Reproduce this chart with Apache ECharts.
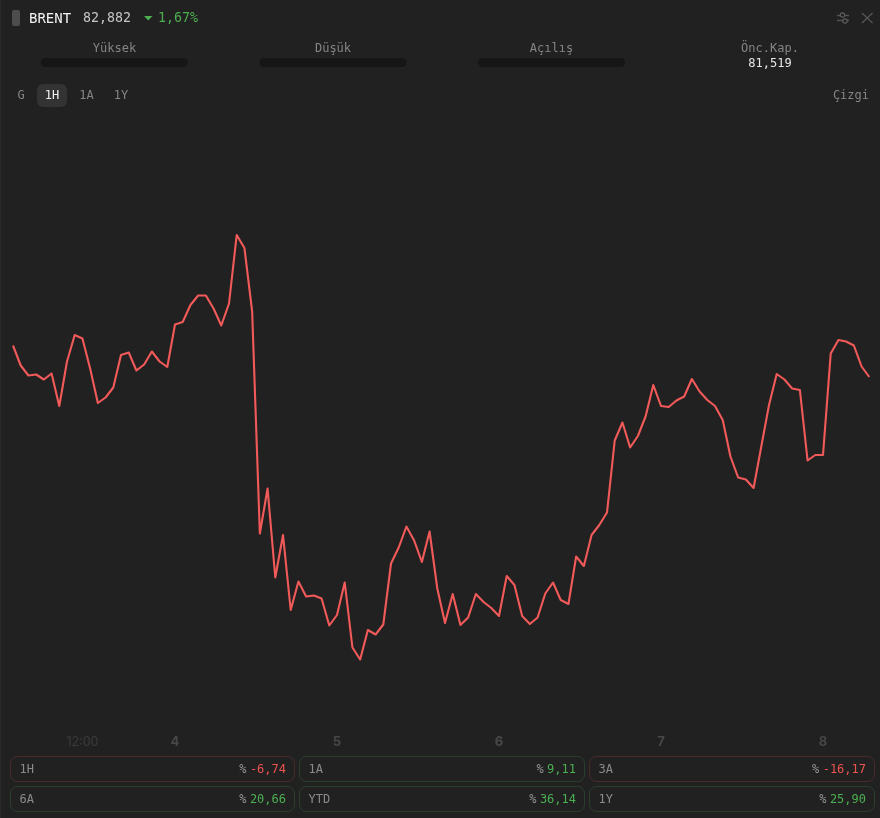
<!DOCTYPE html>
<html><head><meta charset="utf-8">
<style>html,body{margin:0;padding:0;background:#212121}#c{width:880px;height:818px}</style>
<script src="https://cdn.jsdelivr.net/npm/echarts@6/dist/echarts.min.js"></script>
</head><body><div id="c"></div>
<script>
const prices = [83.51,83.11,82.91,82.93,82.83,82.95,82.30,83.19,83.72,83.65,83.05,82.36,82.47,82.67,83.32,83.37,83.01,83.13,83.39,83.19,83.08,
83.93,83.98,84.32,84.51,84.51,84.25,83.91,84.35,85.72,85.46,84.19,79.75,80.65,78.87,79.72,78.22,78.79,78.49,78.51,78.45,77.91,
78.12,78.77,77.47,77.23,77.82,77.73,77.93,79.15,79.47,79.89,79.61,79.18,79.79,78.65,77.96,78.54,77.92,78.07,78.54,78.38,78.26,
78.10,78.90,78.72,78.10,77.94,78.07,78.55,78.77,78.42,78.34,79.29,79.10,79.72,79.92,80.17,81.61,81.97,81.47,81.70,82.09,82.72,
82.30,82.28,82.41,82.49,82.84,82.59,82.42,82.30,82.02,81.29,80.87,80.83,80.66,81.49,82.32,82.94,82.83,82.65,82.62,81.21,81.32,
81.32,83.35,83.62,83.59,83.51,83.09,82.88];
const tickIndex = [9,21,42,63,84,105];
const tickText = ['12:00','4','5','6','7','8'];
const categories = prices.map((_,i)=>{const k=tickIndex.indexOf(i);return k>=0?tickText[k]:'t'+i;});
const statLabels = ['Yüksek','Düşük','Açılış','Önc.Kap.'];
const prevClose = '81,519';
const ranges = ['G','1H','1A','1Y'];
const perfLabels = ['1H','1A','3A','6A','YTD','1Y'];
const perfValues = ['-6,74','9,11','-16,17','20,66','36,14','25,90'];

const MONO='"DejaVu Sans Mono","Liberation Mono",monospace';
const GREEN='#4caf50',RED='#ef5350';
function T(x,y,text,fill,size,align,extra){return {type:'text',silent:true,x:x,y:y+1,style:Object.assign({text:text,fill:fill,font:(size||12)+'px '+MONO,align:align||'left',verticalAlign:'middle'},extra||{})};}
function R(x,y,w,h,r,fill,stroke){return {type:'rect',silent:true,shape:{x:x,y:y,width:w,height:h,r:r},style:{fill:fill||'transparent',stroke:stroke||null,lineWidth:1}};}
function L(x1,y1,x2,y2,c,w){return {type:'line',silent:true,shape:{x1,y1,x2,y2},style:{stroke:c,lineWidth:w||1}};}
const g=[];
g.push(L(0.5,0,0.5,818,'#2a2a2a',1));
g.push(R(12,10,8,16,2,'#4d4d4d'));
g.push(T(29,18,'BRENT','#f2f2f2',14));
g.push(T(83,18,'82,882','#c4c4c4',13.3));
g.push({type:'polygon',silent:true,shape:{points:[[144,16],[152.5,16],[148.2,20.5]]},style:{fill:GREEN}});
g.push(T(158,18,'1,67%',GREEN,13.3));
// icons
g.push(L(837,15.5,849,15.5,'#555',1.4),L(837,20.5,849,20.5,'#555',1.4));
g.push({type:'circle',silent:true,shape:{cx:842.5,cy:15,r:2.2},style:{fill:'#212121',stroke:'#5c5c5c',lineWidth:1.2}});
g.push({type:'circle',silent:true,shape:{cx:845,cy:21,r:2.2},style:{fill:'#212121',stroke:'#5c5c5c',lineWidth:1.2}});
g.push(L(862,13,872.5,23,'#555',1.3),L(872.5,13,862,23,'#555',1.3));
// stats
const statCx=[114.5,333,551.5,770];
statLabels.forEach((s,i)=>{g.push(T(statCx[i],47.5,s,'#858585',12,'center'));
 if(i<3) g.push(R(statCx[i]-73.5,58,147,9,4.5,'#161616'));});
g.push(T(770,63,prevClose,'#e6e6e6',12,'center'));
// ranges
g.push(R(37,84,30,23,6,'#333333'));
const rangeCx=[21,52,86.5,121];
ranges.forEach((s,i)=>g.push(T(rangeCx[i],95,s,i==1?'#f0f0f0':'#858585',12,'center')));
g.push(T(869,95,'Çizgi','#858585',12,'right'));
// cards
const colX=[10.5,299.5,589.5],colW=[284,285,285],rowY=[756.5,786.5],rowH=[25,25];
perfLabels.forEach((s,i)=>{
 const c=i%3,r=Math.floor(i/3),neg=perfValues[i][0]==='-';
 const x=colX[c],y=rowY[r],right=x+colW[c]-8.5,my=y+rowH[r]/2;
 g.push(R(x,y,colW[c],rowH[r],7,null,neg?'#4a2b2b':'#2a402c'));
 g.push(T(x+9,my,s,'#8a8a8a',12));
 g.push(T(right,my,perfValues[i],neg?RED:GREEN,12,'right'));
 g.push(T(right-perfValues[i].length*7.22-3.5,my,'%','#969696',12,'right'));
});
const chart=echarts.init(document.getElementById('c'),null,{renderer:'canvas'});
chart.setOption({
 backgroundColor:'#212121',animation:false,
 grid:{left:13,right:10.7,top:100,height:630},
 xAxis:{type:'category',boundaryGap:false,data:categories,
  axisLine:{show:false},axisTick:{show:false},splitLine:{show:false},
  axisLabel:{show:true,hideOverlap:false,margin:6,fontSize:13,fontFamily:'Inter,"Liberation Sans",sans-serif',
   interval:(i)=>tickIndex.includes(i),
   formatter:(v)=>v==='12:00'?'{t|12:00}':'{d|'+v+'}',
   rich:{t:{color:'#3b3b3b',fontSize:12.5,fontFamily:'Inter'},d:{color:'#474747',fontSize:13,fontWeight:'bold',fontFamily:'Inter'}}}},
 yAxis:{type:'value',min:75.82,max:88.42,show:false,scale:true},
 series:[{type:'line',data:prices,symbol:'none',smooth:false,lineStyle:{color:'#f25a5a',width:2.1,join:'round'}}],
 graphic:g
});
</script></body></html>
